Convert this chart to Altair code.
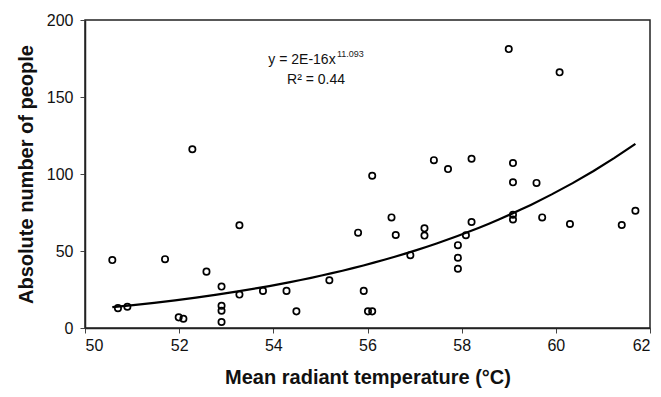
import altair as alt
import pandas as pd

# Mean radiant temperature (°C)
temp = [50.58, 50.70, 50.90, 51.70, 51.99, 52.09, 52.28, 52.58, 52.90, 52.90,
        52.90, 52.90, 53.28, 53.28, 53.78, 54.28, 54.49, 55.19, 55.80, 55.92,
        56.01, 56.10, 56.10, 56.51, 56.60, 56.91, 57.21, 57.21, 57.41, 57.71,
        57.92, 57.92, 57.92, 58.09, 58.21, 58.21, 59.00, 59.09, 59.09, 59.09,
        59.09, 59.59, 59.71, 60.08, 60.30, 61.40, 61.69]
# Absolute number of people
people = [44.1, 12.9, 13.8, 44.7, 6.9, 6.0, 116.1, 36.6, 26.9, 14.4,
          11.2, 3.9, 66.7, 21.7, 24.1, 24.1, 10.8, 31.0, 61.9, 24.1,
          10.8, 10.8, 98.9, 71.8, 60.4, 47.3, 64.7, 60.0, 109.0, 103.2,
          53.8, 45.6, 38.5, 60.2, 109.9, 68.8, 181.1, 107.1, 94.6, 73.5,
          70.5, 94.2, 71.8, 166.0, 67.5, 66.9, 76.1]

x_ticks = [50, 52, 54, 56, 58, 60, 62]
y_ticks = [0, 50, 100, 150, 200]

eq_text = ["y = 2E-16x"]
eq_sup = ["11.093"]
r2_text = ["R² = 0.44"]

df = pd.DataFrame({"temp": temp, "people": people})

FONT = "Liberation Sans"

xscale = alt.Scale(domain=[50, 62], nice=False, zero=False)
yscale = alt.Scale(domain=[0, 200], nice=False)

xaxis = alt.Axis(values=x_ticks, title="Mean radiant temperature (°C)", grid=False,
                 labelFontSize=16, labelFont=FONT, labelColor="#111",
                 titleFontSize=20, titleFont=FONT, titleFontWeight="bold", titleColor="#111",
                 tickSize=5, tickColor="#444", domainColor="#222", domainWidth=1.5,
                 labelPadding=4, titlePadding=14)
yaxis = alt.Axis(values=y_ticks, title="Absolute number of people", grid=False,
                 labelFontSize=16, labelFont=FONT, labelColor="#111",
                 titleFontSize=20, titleFont=FONT, titleFontWeight="bold", titleColor="#111",
                 tickSize=5, tickColor="#444", domainColor="#222", domainWidth=1.5,
                 labelPadding=7, titlePadding=10)

base = alt.Chart(df)

points = base.mark_point(shape="circle", filled=False, color="black",
                         strokeWidth=1.7, size=40, opacity=1).encode(
    x=alt.X("temp:Q", scale=xscale, axis=xaxis),
    y=alt.Y("people:Q", scale=yscale, axis=yaxis),
)

trend = base.transform_regression("temp", "people", method="pow").mark_line(
    color="black", strokeWidth=2.2).encode(
    x=alt.X("temp:Q", scale=xscale),
    y=alt.Y("people:Q", scale=yscale),
)

eq = alt.Chart(pd.DataFrame({"t": eq_text})).mark_text(
    font=FONT, fontSize=14, color="#111", align="center", baseline="middle").encode(
    text="t:N", x=alt.value(217), y=alt.value(40))

sup = alt.Chart(pd.DataFrame({"t": eq_sup})).mark_text(
    font=FONT, fontSize=9, color="#222", align="left", baseline="middle").encode(
    text="t:N", x=alt.value(252), y=alt.value(34))

r2 = alt.Chart(pd.DataFrame({"t": r2_text})).mark_text(
    font=FONT, fontSize=14, color="#111", align="center", baseline="middle").encode(
    text="t:N", x=alt.value(231), y=alt.value(60))

chart = alt.layer(points, trend, eq, sup, r2).properties(
    width=565, height=308,
    autosize=alt.AutoSizeParams(type="none"),
    padding={"left": 85, "top": 20, "right": 11, "bottom": 69},
    background="white",
).configure_view(stroke="#222", strokeWidth=1.5)

chart.save("out.html", embed_options={"renderer": "svg", "actions": False})
